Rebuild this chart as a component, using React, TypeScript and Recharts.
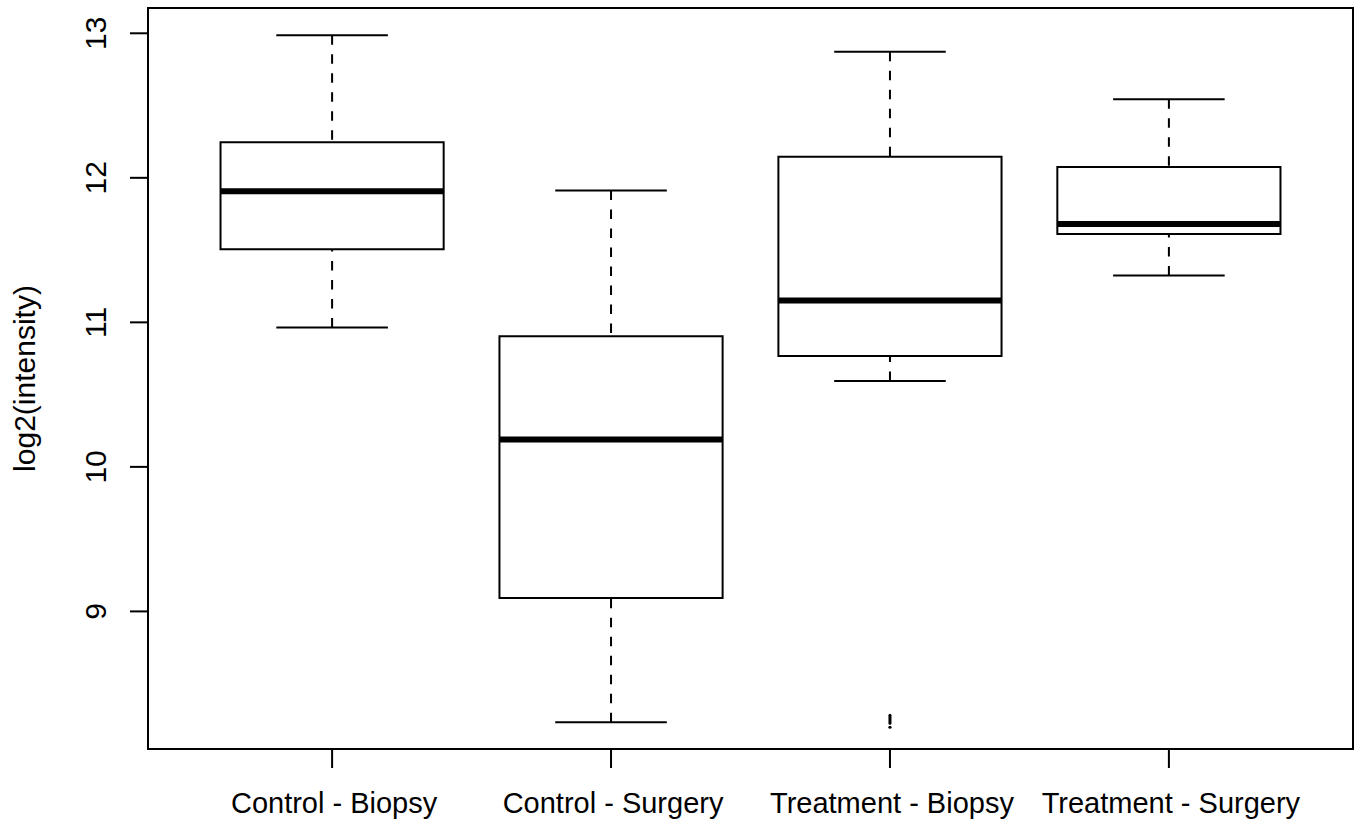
import React from 'react';
import { ComposedChart, XAxis, YAxis, ReferenceArea, ReferenceLine, Scatter } from 'recharts';

const categories = ['Control - Biopsy', 'Control - Surgery', 'Treatment - Biopsy', 'Treatment - Surgery'];
const lowerWhisker = [10.965, 8.233, 10.595, 11.325];
const q1 = [11.505, 9.093, 10.767, 11.612];
const median = [11.907, 10.19, 11.152, 11.68];
const q3 = [12.246, 10.903, 12.145, 12.075];
const upperWhisker = [12.986, 11.913, 12.872, 12.543];
const outliers = [{ group: 3, value: 8.24 }];
const yTicks = [9, 10, 11, 12, 13];
const xTicks = [1, 2, 3, 4];
const xDomain: [number, number] = [0.34, 4.66];
const yDomain: [number, number] = [8.048, 13.175];

const FONT = '"Liberation Sans", Arial, Helvetica, sans-serif';
const FS = 30;
const XFS = 29;

const YTick = (props: any) => {
  const { x, y, payload } = props;
  const bx = x - 22;
  return (
    <text x={bx} y={y} transform={`rotate(-90, ${bx}, ${y})`} textAnchor="middle" fontSize={FS} fontFamily={FONT} fill="#000">
      {payload.value}
    </text>
  );
};

const XTick = (props: any) => {
  const { x, y, payload } = props;
  return (
    <text x={x + 2} y={y + 43} textAnchor="middle" fontSize={XFS} fontFamily={FONT} fill="#000">
      {categories[payload.value - 1]}
    </text>
  );
};

const YLabel = (props: any) => {
  const vb = props.viewBox || { x: 0, y: 8, height: 740 };
  const cx = 35;
  const cy = vb.y + vb.height / 2;
  return (
    <text x={cx} y={cy} transform={`rotate(-90, ${cx}, ${cy})`} textAnchor="middle" fontSize={FS} fontFamily={FONT} fill="#000">
      log2(intensity)
    </text>
  );
};

const OutlierShape = (props: any) => {
  const { cx, cy } = props;
  return (
    <g>
      <line x1={cx} y1={cy - 6} x2={cx} y2={cy + 2} stroke="#000" strokeWidth={3} strokeLinecap="round" />
      <circle cx={cx} cy={cy + 6} r={1.6} fill="#000" />
    </g>
  );
};

export default function App() {
  const elements: React.ReactElement[] = [];
  categories.forEach((c, i) => {
    const x = xTicks[i];
    elements.push(
      <ReferenceLine key={`uw${i}`} segment={[{ x, y: upperWhisker[i] }, { x, y: q3[i] }]} stroke="#000" strokeWidth={2} strokeDasharray="9.5 9.5" />,
      <ReferenceLine key={`lw${i}`} segment={[{ x, y: lowerWhisker[i] }, { x, y: q1[i] }]} stroke="#000" strokeWidth={2} strokeDasharray="9.5 9.5" />,
      <ReferenceLine key={`uc${i}`} segment={[{ x: x - 0.2, y: upperWhisker[i] }, { x: x + 0.2, y: upperWhisker[i] }]} stroke="#000" strokeWidth={2} />,
      <ReferenceLine key={`lc${i}`} segment={[{ x: x - 0.2, y: lowerWhisker[i] }, { x: x + 0.2, y: lowerWhisker[i] }]} stroke="#000" strokeWidth={2} />,
      <ReferenceArea key={`box${i}`} x1={x - 0.4} x2={x + 0.4} y1={q1[i]} y2={q3[i]} fill="none" fillOpacity={0} stroke="#000" strokeWidth={2} />,
      <ReferenceLine key={`med${i}`} segment={[{ x: x - 0.4, y: median[i] }, { x: x + 0.4, y: median[i] }]} stroke="#000" strokeWidth={6} />
    );
  });

  return (
    <div style={{ position: 'absolute', left: 0, top: 0, background: '#fff' }}>
      <ComposedChart width={1362} height={827} data={outliers} margin={{ top: 8, right: 9, bottom: 0, left: 0 }}>
        <XAxis
          type="number"
          dataKey="group"
          domain={xDomain}
          ticks={xTicks}
          interval={0}
          allowDataOverflow
          height={78}
          axisLine={false}
          tickLine={{ stroke: '#000', strokeWidth: 2 }}
          tickSize={19}
          tick={<XTick />}
        />
        <YAxis
          type="number"
          dataKey="value"
          domain={yDomain}
          ticks={yTicks}
          interval={0}
          allowDataOverflow
          width={148}
          axisLine={false}
          tickLine={{ stroke: '#000', strokeWidth: 2 }}
          tickSize={18}
          tick={<YTick />}
          label={<YLabel />}
        />
        <ReferenceArea x1={xDomain[0]} x2={xDomain[1]} y1={yDomain[0]} y2={yDomain[1]} fill="none" fillOpacity={0} stroke="#000" strokeWidth={2} />
        {elements}
        <Scatter data={outliers} dataKey="value" shape={<OutlierShape />} isAnimationActive={false} />
      </ComposedChart>
    </div>
  );
}
